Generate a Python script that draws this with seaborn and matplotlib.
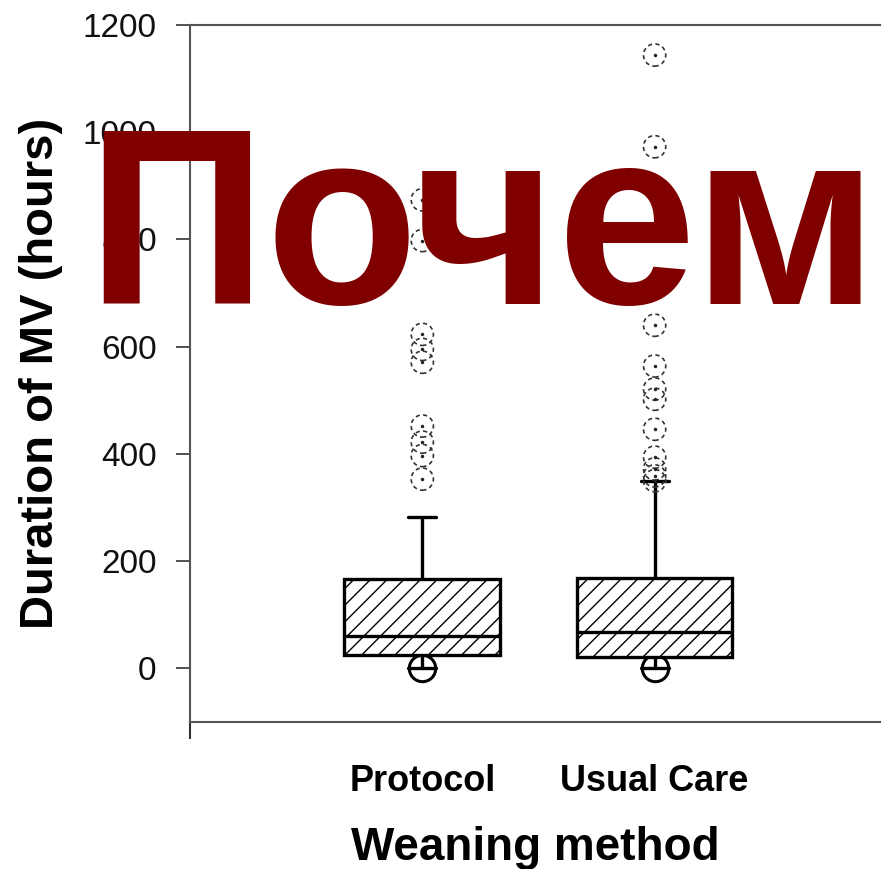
import matplotlib
matplotlib.use("Agg")
import matplotlib.pyplot as plt
import seaborn as sns
import pandas as pd
import numpy as np

# Categories
groups = ["Protocol", "Usual Care"]

# Box summaries per group: lower whisker end, Q1, median, Q3, upper whisker end (hours)
protocol_box = [0, 24, 60, 166, 283]
usual_box = [0, 22, 67, 169, 350]

# Outlying durations (hours)
protocol_out = [0, 353, 397, 422, 452, 571, 595, 623, 798, 874]
usual_out = [0, 350, 359, 372, 394, 446, 502, 521, 564, 640, 973, 1144]

yticks = [0, 200, 400, 600, 800, 1000, 1200]

sns.set_theme(style="white")
plt.rcParams["font.family"] = ["Liberation Sans", "DejaVu Sans"]
plt.rcParams["text.color"] = "black"
plt.rcParams["axes.labelcolor"] = "black"
plt.rcParams["hatch.color"] = "black"
plt.rcParams["hatch.linewidth"] = 1.0

box_df = pd.DataFrame({
    "method": [groups[0]] * len(protocol_box) + [groups[1]] * len(usual_box),
    "hours": protocol_box + usual_box,
})
out_df = pd.DataFrame({
    "method": [groups[0]] * len(protocol_out) + [groups[1]] * len(usual_out),
    "hours": protocol_out + usual_out,
})

fig = plt.figure(figsize=(8.82, 8.69), dpi=100)
ax = fig.add_axes([0.2154, 0.1692, 0.7823, 0.802])

sns.boxplot(data=box_df, x="method", y="hours", order=groups, whis=(0, 100),
            width=0.67, color="white", linecolor="black", linewidth=2.4,
            showfliers=False, capwidths=0.12, ax=ax)
for patch in ax.patches:
    patch.set_hatch("//")
    patch.set_facecolor("white")
    patch.set_zorder(3)
for line in ax.lines:
    line.set_zorder(4)

# Outliers: zero-duration cases tucked under the boxes, the rest above
low = out_df[out_df["hours"] <= 0]
high = out_df[out_df["hours"] > 0]
sns.stripplot(data=low, x="method", y="hours", order=groups, jitter=False,
              size=19, color="white", edgecolor="black", linewidth=2.2,
              zorder=2, ax=ax)
n0 = len(ax.collections)
sns.stripplot(data=high, x="method", y="hours", order=groups, jitter=False,
              size=16, color="white", edgecolor="#333333", linewidth=1.2,
              zorder=5, ax=ax)
for coll in ax.collections[n0:]:
    coll.set_facecolor("none")
    coll.set_linestyle((0, (2.5, 2)))
sns.stripplot(data=high, x="method", y="hours", order=groups, jitter=False,
              size=2.5, color="#222222", linewidth=0, zorder=5, ax=ax)

ax.set_xlim(-1.0, 1.97)
ax.set_ylim(-100, 1200)
ax.set_yticks(yticks)
ax.set_yticklabels([str(v) for v in yticks], fontsize=24, color="#111111")
ax.tick_params(axis="y", length=10, width=1.2, color="#333333", pad=14, left=True)
ax.tick_params(axis="x", length=0, pad=30, labelsize=26, labelcolor="black")
for lab in ax.get_xticklabels():
    lab.set_fontweight("bold")
ax.set_xticks([-1.0], minor=True)
ax.tick_params(axis="x", which="minor", length=12, width=1.5, color="#333333", bottom=True)

for side in ["left", "bottom", "top"]:
    ax.spines[side].set_visible(True)
    ax.spines[side].set_color("#555555")
    ax.spines[side].set_linewidth(1.5)
ax.spines["right"].set_visible(False)

ax.set_xlabel("Weaning method", fontsize=33, fontweight="bold", labelpad=20)
ax.set_ylabel("Duration of MV (hours)", fontsize=34, fontweight="bold", labelpad=14)

fig.text(0.5465, 1 - 304 / 869, "Почем", ha="center", va="baseline",
         fontsize=180, fontweight="bold", color="#800000", zorder=10)

fig.savefig("out.png", dpi=100)
